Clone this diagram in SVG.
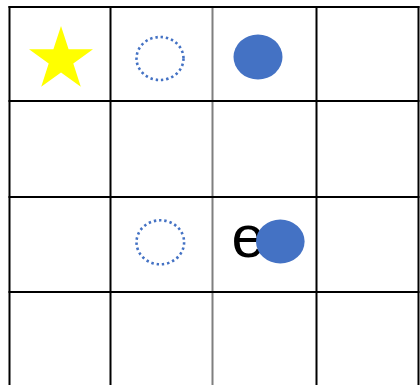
<svg xmlns="http://www.w3.org/2000/svg" width="420" height="385" viewBox="0 0 420 385">
<style>
.g{stroke:#000;stroke-width:2;fill:none}
.gm{stroke:#7f7f7f;stroke-width:2;fill:none}
.dot{fill:none;stroke:#4472C4;stroke-width:2.6;stroke-dasharray:2.4 2.9}
.fill{fill:#4472C4}
</style>
<rect width="420" height="385" fill="#fff"/>
<g id="grid">
<line class="g" x1="9.5" y1="6" x2="9.5" y2="385"/>
<line class="g" x1="110.5" y1="6" x2="110.5" y2="385"/>
<line class="gm" x1="212.5" y1="6" x2="212.5" y2="385"/>
<line class="g" x1="316.5" y1="6" x2="316.5" y2="385"/>
<line class="g" x1="418.5" y1="6" x2="418.5" y2="385" stroke="#555"/>
<line class="g" x1="8.5" y1="7" x2="419.5" y2="7"/>
<line class="g" x1="8.5" y1="101" x2="419.5" y2="101"/>
<line class="g" x1="8.5" y1="197" x2="419.5" y2="197"/>
<line class="g" x1="8.5" y1="292" x2="419.5" y2="292"/>
</g>
<g id="star">
<polygon fill="#FFFF00" points="61,26 68.6,49.2 93,49.2 73.3,63.6 80.8,86.8 61,72.4 41.2,86.8 48.7,63.6 29,49.2 53.4,49.2"/>
</g>
<g id="dotted1"><ellipse class="dot" cx="160" cy="58.5" rx="23.5" ry="21.5"/></g>
<g id="filled1"><ellipse class="fill" cx="258" cy="57" rx="24.5" ry="22.5"/></g>
<g id="dotted2"><ellipse class="dot" cx="160.3" cy="242.3" rx="23.8" ry="22"/></g>
<g id="e-node">
<text x="231.5" y="257" font-family="Liberation Sans, Arial, sans-serif" font-size="60" fill="#000">e</text>
<ellipse class="fill" cx="280.3" cy="241.5" rx="24.3" ry="22"/>
</g>
</svg>
